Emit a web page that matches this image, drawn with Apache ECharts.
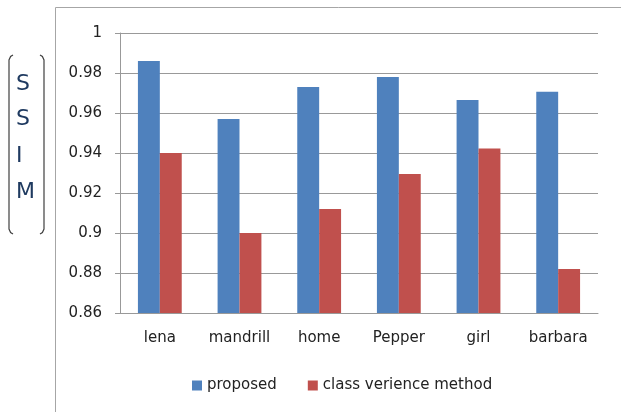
<!DOCTYPE html>
<html>
<head>
<meta charset="utf-8">
<script src="https://cdn.jsdelivr.net/npm/echarts@6/dist/echarts.min.js"></script>
<style>html,body{margin:0;padding:0;background:#fff;}#c{width:621px;height:412px;}</style>
</head>
<body>
<div id="c"></div>
<script>
const categories = ['lena', 'mandrill', 'home', 'Pepper', 'girl', 'barbara'];
const proposed = [0.986, 0.957, 0.973, 0.978, 0.9665, 0.9706];
const classVerience = [0.940, 0.900, 0.912, 0.9295, 0.9422, 0.882];
const seriesNames = ['proposed', 'class verience method'];
const yLetters = ['S', 'S', 'I', 'M'];

const FONT = 'DejaVu Sans';
const chart = echarts.init(document.getElementById('c'), null, {renderer: 'canvas'});

function bracket(xEdge, xMid) {
  return {type: 'polyline', silent: true,
    shape: {points: [[xEdge, 55], [xMid + (xEdge - xMid) * 0.4, 56.5], [xMid, 60], [xMid, 229], [xMid + (xEdge - xMid) * 0.4, 232.5], [xEdge, 234]]},
    style: {stroke: '#404040', lineWidth: 1.2, fill: null}};
}

const graphics = [
  {type: 'polyline', silent: true, shape: {points: [[55.5, 412], [55.5, 7.5], [621, 7.5]]}, style: {stroke: '#a6a6a6', lineWidth: 1, fill: null}},
  bracket(13, 9),
  bracket(40, 44)
];
const letterY = [84, 119, 156, 192];
yLetters.forEach((l, i) => {
  graphics.push({type: 'text', x: 16, y: letterY[i], style: {text: l, fontFamily: FONT, fontSize: 22, fill: '#1f3a60', align: 'left', verticalAlign: 'middle'}});
});

chart.setOption({
  animation: false,
  color: ['#4f81bd', '#c0504d'],
  grid: {left: 120, right: 23, top: 33, bottom: 99, containLabel: false},
  legend: {
    top: 373, left: 187,
    itemWidth: 10, itemHeight: 10, itemGap: 31,
    icon: 'rect',
    textStyle: {fontFamily: FONT, fontSize: 15, color: '#222'},
    data: seriesNames
  },
  xAxis: {
    type: 'category',
    data: categories,
    axisTick: {show: false},
    axisLine: {lineStyle: {color: '#999'}},
    axisLabel: {fontFamily: FONT, fontSize: 15, color: '#222', margin: 18, interval: 0}
  },
  yAxis: {
    type: 'value',
    min: 0.86, max: 1, interval: 0.02,
    axisLine: {show: true, lineStyle: {color: '#999'}},
    axisTick: {show: true, length: 5, lineStyle: {color: '#999'}},
    splitLine: {lineStyle: {color: '#999'}},
    axisLabel: {fontFamily: FONT, fontSize: 15, color: '#222', margin: 18,
      formatter: v => String(parseFloat(v.toFixed(2)))}
  },
  series: [
    {name: seriesNames[0], type: 'bar', data: proposed, barGap: '0%', barCategoryGap: '45%'},
    {name: seriesNames[1], type: 'bar', data: classVerience, barGap: '0%', barCategoryGap: '45%'}
  ],
  graphic: graphics
});
</script>
</body>
</html>
